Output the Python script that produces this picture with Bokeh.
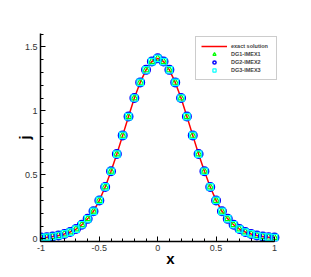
from bokeh.plotting import figure
from bokeh.models import Range1d, FixedTicker, Legend, LegendItem
from bokeh.embed import file_html
from bokeh.resources import INLINE

# ---- data ----
x_vals = [-1.00, -0.95, -0.90, -0.85, -0.80, -0.75, -0.70, -0.65, -0.60, -0.55,
          -0.50, -0.45, -0.40, -0.35, -0.30, -0.25, -0.20, -0.15, -0.10, -0.05,
          0.00,
          0.05, 0.10, 0.15, 0.20, 0.25, 0.30, 0.35, 0.40, 0.45, 0.50,
          0.55, 0.60, 0.65, 0.70, 0.75, 0.80, 0.85, 0.90, 0.95, 1.00]
exact_j = [0.010, 0.013, 0.018, 0.026, 0.038, 0.053, 0.076, 0.110, 0.156, 0.215,
           0.300, 0.405, 0.528, 0.662, 0.808, 0.955, 1.100, 1.222, 1.320, 1.385,
           1.410,
           1.385, 1.320, 1.222, 1.100, 0.955, 0.808, 0.662, 0.528, 0.405, 0.300,
           0.215, 0.156, 0.110, 0.076, 0.053, 0.038, 0.026, 0.018, 0.013, 0.010]
dg1_j = list(exact_j)
dg2_j = list(exact_j)
dg3_j = list(exact_j)

x_ticks = [-1, -0.5, 0, 0.5, 1]
x_tick_labels = ["-1", "-0.5", "0", "0.5", "1"]
y_ticks = [0, 0.5, 1, 1.5]
y_tick_labels = ["0", "0.5", "1", "1.5"]
x_minor = [round(-1 + 0.1 * i, 2) for i in range(21)]
y_minor = [round(0.1 * i, 2) for i in range(17)]

series_names = ["exact solution", "DG1-IMEX1", "DG2-IMEX2", "DG3-IMEX3"]
x_title = "x"
y_title = "j"

p = figure(width=303, height=269, output_backend="svg", toolbar_location=None,
           x_range=Range1d(-1.004, 1.223), y_range=Range1d(-0.021, 1.604),
           min_border_left=40, min_border_right=3, min_border_top=33,
           min_border_bottom=28)
p.outline_line_color = None
p.xgrid.visible = False
p.ygrid.visible = False
p.background_fill_color = "white"
p.border_fill_color = "white"

line_r = p.line(x_vals, exact_j, line_color="#ff0000", line_width=1.5)
tri_r = p.scatter(x_vals, dg1_j, marker="triangle", size=6.5, fill_color=None,
                  line_color="#00ff00", line_width=1.2)
cir_r = p.scatter(x_vals, dg2_j, marker="circle", size=8.5, fill_color=None,
                  line_color="#0000ff", line_width=1.5)
sq_r = p.scatter(x_vals, dg3_j, marker="square", size=6.5, fill_color=None,
                 line_color="#00ffff", line_width=1.2)

for ax, ticks, labels, minor in ((p.xaxis[0], x_ticks, x_tick_labels, x_minor),
                                 (p.yaxis[0], y_ticks, y_tick_labels, y_minor)):
    ax.ticker = FixedTicker(ticks=ticks, minor_ticks=minor)
    ax.major_label_overrides = {t: l for t, l in zip(ticks, labels)}
    ax.major_tick_in = 5
    ax.major_tick_out = 0
    ax.minor_tick_in = 3
    ax.minor_tick_out = 0
    ax.axis_line_width = 1.5
    ax.axis_line_color = "black"
    ax.major_tick_line_color = "black"
    ax.minor_tick_line_color = "black"
    ax.major_label_text_font = "Liberation Sans"
    ax.major_label_text_font_size = "9px"
    ax.major_label_text_color = "#333333"
    ax.axis_label_text_font = "Liberation Sans"
    ax.axis_label_text_font_style = "bold"
    ax.axis_label_text_font_size = "15px"
    ax.axis_label_text_color = "black"

p.xaxis[0].bounds = (-1, 1)
p.xaxis[0].axis_label = x_title
p.xaxis[0].major_label_standoff = 3
p.xaxis[0].axis_label_standoff = -4
p.yaxis[0].axis_label = y_title
p.yaxis[0].major_label_standoff = 3
p.yaxis[0].axis_label_standoff = -11

legend = Legend(items=[
    LegendItem(label=series_names[0], renderers=[line_r]),
    LegendItem(label=series_names[1], renderers=[tri_r]),
    LegendItem(label=series_names[2], renderers=[cir_r]),
    LegendItem(label=series_names[3], renderers=[sq_r]),
], location=(155, 161))
legend.glyph_width = 26
legend.glyph_height = 8
legend.label_height = 8
legend.spacing = 0
legend.padding = 5
legend.margin = 0
legend.label_standoff = 4
legend.label_width = 40
legend.label_text_font = "Liberation Sans"
legend.label_text_font_style = "bold"
legend.label_text_font_size = "5.5px"
legend.border_line_color = "#999999"
legend.border_line_width = 1
legend.background_fill_color = "white"
legend.background_fill_alpha = 1
p.add_layout(legend, "center")

open("out.html", "w").write(file_html(p, INLINE))
